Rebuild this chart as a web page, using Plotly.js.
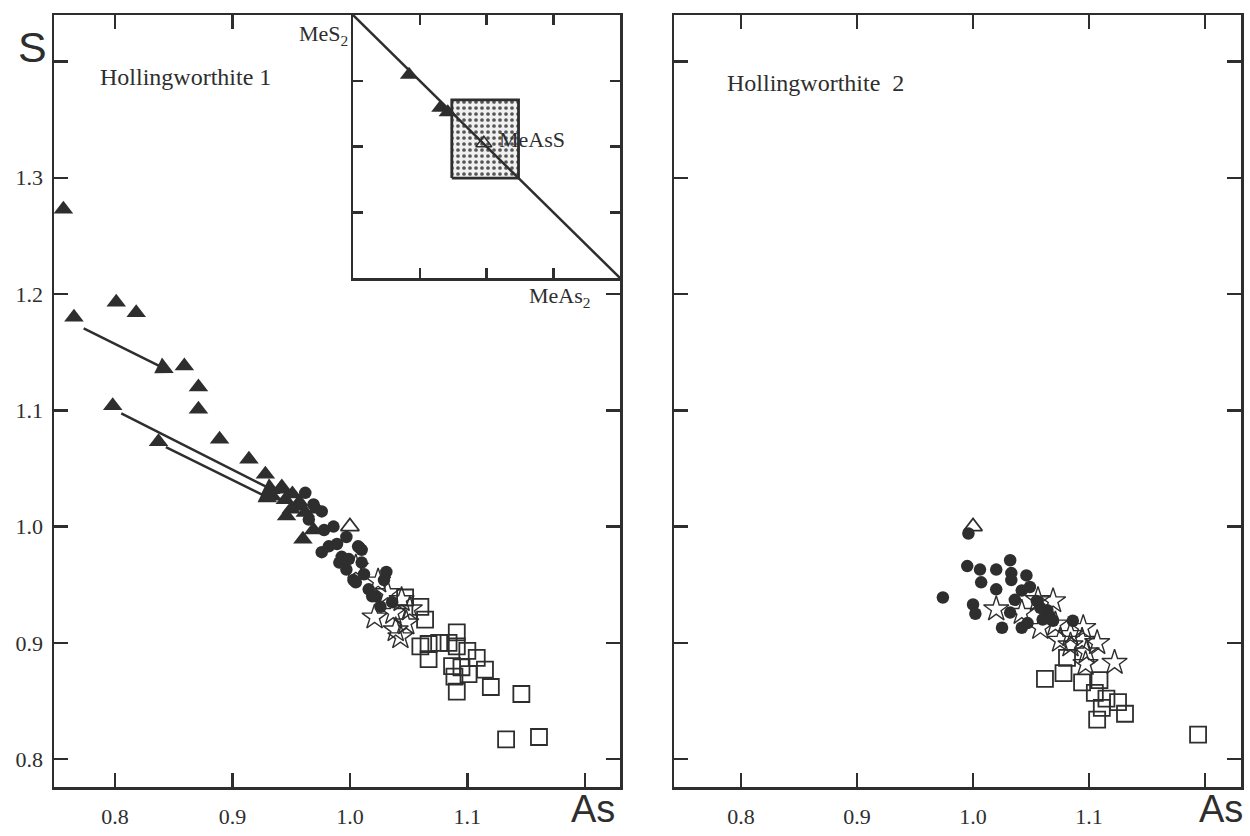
<!DOCTYPE html>
<html>
<head>
<meta charset="utf-8">
<script src="https://cdn.plot.ly/plotly-3.0.1.min.js"></script>
<style>html,body{margin:0;padding:0;background:#fff;}#chart{width:1250px;height:836px;}</style>
</head>
<body>
<div id="chart"></div>
<script>
// ---------- Hollingworthite 1 (left panel): As vs S ----------
const h1TriX  = [0.756, 0.765, 0.801, 0.818, 0.859, 0.871, 0.871, 0.798, 0.837, 0.889, 0.914, 0.928, 0.941, 0.934, 0.945, 0.951, 0.946, 0.962, 0.972, 0.960, 0.969, 0.957, 0.942, 0.950];
const h1TriY  = [1.273, 1.180, 1.193, 1.184, 1.138, 1.120, 1.101, 1.104, 1.073, 1.075, 1.058, 1.045, 1.032, 1.026, 1.023, 1.028, 1.009, 1.012, 1.015, 0.989, 0.997, 1.021, 1.034, 1.015];
const h1CircX = [0.962, 0.976, 0.986, 0.997, 1.007, 1.010, 0.976, 0.993, 0.997, 1.003, 1.031, 1.029, 1.022, 1.026, 1.036, 0.982, 0.991, 1.008, 1.010, 1.005, 1.019, 0.969, 0.957, 0.965, 0.978, 0.989, 0.999, 1.012, 1.016];
const h1CircY = [1.029, 1.013, 1.000, 0.991, 0.983, 0.980, 0.978, 0.974, 0.963, 0.954, 0.961, 0.954, 0.940, 0.931, 0.935, 0.983, 0.969, 0.982, 0.969, 0.952, 0.940, 1.019, 1.019, 1.006, 0.997, 0.985, 0.972, 0.959, 0.946];
const h1StarX = [1.005, 1.021, 1.024, 1.032, 1.044, 1.037, 1.048, 1.039, 1.043, 1.051];
const h1StarY = [0.965, 0.922, 0.953, 0.943, 0.937, 0.926, 0.917, 0.911, 0.905, 0.929];
const h1SqX   = [1.047, 1.060, 1.064, 1.060, 1.067, 1.076, 1.084, 1.091, 1.091, 1.100, 1.108, 1.115, 1.067, 1.087, 1.095, 1.089, 1.101, 1.091, 1.120, 1.146, 1.133, 1.161];
const h1SqY   = [0.939, 0.931, 0.920, 0.897, 0.899, 0.900, 0.900, 0.909, 0.897, 0.893, 0.887, 0.877, 0.886, 0.880, 0.879, 0.871, 0.873, 0.858, 0.862, 0.856, 0.817, 0.819];
const h1OpenX = [1.0];
const h1OpenY = [1.0];
// trend arrows (start -> tip)
const arrowFromX = [0.772, 0.804, 0.842];
const arrowFromY = [1.171, 1.098, 1.069];
const arrowToX   = [0.850, 0.941, 0.938];
const arrowToY   = [1.132, 1.028, 1.021];

// ---------- Hollingworthite 2 (right panel) ----------
const h2CircX = [0.996, 0.995, 1.006, 1.020, 1.032, 1.033, 1.033, 1.046, 1.007, 1.020, 0.974, 1.000, 1.002, 1.025, 1.042, 1.047, 1.036, 1.042, 1.049, 1.055, 1.064, 1.066, 1.060, 1.086, 1.032, 1.069, 1.058];
const h2CircY = [0.994, 0.966, 0.963, 0.963, 0.971, 0.960, 0.954, 0.958, 0.952, 0.946, 0.939, 0.933, 0.925, 0.913, 0.913, 0.917, 0.937, 0.945, 0.948, 0.936, 0.928, 0.923, 0.920, 0.919, 0.926, 0.919, 0.930];
const h2StarX = [1.020, 1.042, 1.056, 1.069, 1.058, 1.071, 1.075, 1.084, 1.095, 1.094, 1.107, 1.098, 1.097, 1.122, 1.084];
const h2StarY = [0.929, 0.926, 0.937, 0.936, 0.913, 0.916, 0.902, 0.898, 0.913, 0.902, 0.900, 0.892, 0.882, 0.883, 0.907];
const h2SqX   = [1.062, 1.078, 1.081, 1.094, 1.109, 1.105, 1.115, 1.125, 1.111, 1.107, 1.131, 1.194];
const h2SqY   = [0.869, 0.874, 0.887, 0.866, 0.868, 0.857, 0.852, 0.849, 0.844, 0.834, 0.839, 0.821];
const h2OpenX = [1.0];
const h2OpenY = [1.0];

// ---------- inset: MeS2 - MeAs2 join ----------
const joinX = [0, 4];
const joinY = [4, 0];
const boxX  = [1.48, 2.48];
const boxY  = [1.52, 2.71];
const insetTriX  = [0.84, 1.31, 1.42];
const insetTriY  = [3.09, 2.59, 2.52];
const insetOpenX = [1.96];
const insetOpenY = [2.05];

// tick labels
const xTickVals = [0.8, 0.9, 1.0, 1.1, 1.2];
const xTickText = ['0.8', '0.9', '1.0', '1.1', ''];
const yTickVals = [0.8, 0.9, 1.0, 1.1, 1.2, 1.3, 1.4];
const yTickText = ['0.8', '0.9', '1.0', '1.1', '1.2', '1.3', ''];

const INK = '#2e2e2e';
const SERIF = 'Liberation Serif, DejaVu Serif, serif';
const SANS = 'Liberation Sans, Arial, sans-serif';

function pts(x, y, xa, ya, symbol, size, filled, lw) {
  return {
    type: 'scatter', mode: 'markers', x: x, y: y, xaxis: xa, yaxis: ya,
    hoverinfo: 'skip', showlegend: false, cliponaxis: false,
    marker: {
      symbol: symbol, size: size, color: INK,
      line: {color: INK, width: filled ? 0 : (lw || 1.6)}
    }
  };
}

const traces = [
  pts(h1SqX, h1SqY, 'x', 'y', 'square-open', 16, false, 1.8),
  pts(h1StarX, h1StarY, 'x', 'y', 'star-open', 19, false, 1.4),
  pts(h1CircX, h1CircY, 'x', 'y', 'circle', 12.5, true),
  pts(h1TriX, h1TriY, 'x', 'y', 'triangle-up', 17, true),
  pts(h1OpenX, h1OpenY, 'x', 'y', 'triangle-up-open', 16, false, 1.8),

  pts(h2SqX, h2SqY, 'x2', 'y2', 'square-open', 16, false, 1.8),
  pts(h2CircX, h2CircY, 'x2', 'y2', 'circle', 12.5, true),
  pts(h2StarX, h2StarY, 'x2', 'y2', 'star-open', 19, false, 1.4),
  pts(h2OpenX, h2OpenY, 'x2', 'y2', 'triangle-up-open', 16, false, 1.8),

  // inset: stippled box
  {type: 'scatter', mode: 'lines', xaxis: 'x3', yaxis: 'y3', hoverinfo: 'skip', showlegend: false,
   x: [boxX[0], boxX[1], boxX[1], boxX[0], boxX[0]],
   y: [boxY[0], boxY[0], boxY[1], boxY[1], boxY[0]],
   fill: 'toself', fillcolor: '#efefef',
   fillpattern: {shape: '.', bgcolor: '#f0f0f0', fgcolor: '#555', size: 6, solidity: 0.3},
   line: {color: INK, width: 2.8}},
  // inset: join line
  {type: 'scatter', mode: 'lines', x: joinX, y: joinY, xaxis: 'x3', yaxis: 'y3',
   hoverinfo: 'skip', showlegend: false, cliponaxis: false, line: {color: INK, width: 2.5}},
  pts(insetTriX, insetTriY, 'x3', 'y3', 'triangle-up', 16, true),
  pts(insetOpenX, insetOpenY, 'x3', 'y3', 'triangle-up-open', 14, false, 1.5),

  // helper traces for the partial top / right tick sets of the left panel
  {type: 'scatter', mode: 'markers', x: [], y: [], xaxis: 'x4', yaxis: 'y', hoverinfo: 'skip', showlegend: false},
  {type: 'scatter', mode: 'markers', x: [], y: [], xaxis: 'x', yaxis: 'y4', hoverinfo: 'skip', showlegend: false}
];

const yDom = [1 - 787 / 836, 1 - 15 / 836];
const xRangeL = [0.748, 1.230];
const xRangeR = [0.7422, 1.2310];
const yRange = [0.776, 1.440];

const axisBase = {
  showgrid: false, zeroline: false, showline: true, linecolor: INK, linewidth: 2.5,
  ticks: 'inside', ticklen: 14, tickwidth: 2.5, tickcolor: INK,
  tickmode: 'array', fixedrange: true,
  tickfont: {family: SERIF, size: 22, color: INK}
};

const layout = {
  width: 1250, height: 836,
  margin: {l: 0, r: 0, t: 0, b: 0},
  paper_bgcolor: '#fff', plot_bgcolor: '#fff',
  showlegend: false,
  xaxis: Object.assign({}, axisBase, {domain: [54 / 1250, 620 / 1250], range: xRangeL, anchor: 'y',
    tickvals: xTickVals, ticktext: xTickText, mirror: true, ticklabelstandoff: 8}),
  yaxis: Object.assign({}, axisBase, {domain: yDom, range: yRange, anchor: 'x',
    tickvals: yTickVals, ticktext: yTickText, mirror: true, ticklabelstandoff: 4}),
  xaxis4: Object.assign({}, axisBase, {overlaying: 'x', side: 'top', anchor: 'y', range: xRangeL,
    tickvals: [0.8, 0.9], showticklabels: false, showline: false}),
  yaxis4: Object.assign({}, axisBase, {overlaying: 'y', side: 'right', anchor: 'x', range: yRange,
    tickvals: [0.8, 0.9, 1.0, 1.1, 1.2], showticklabels: false, showline: false}),
  xaxis2: Object.assign({}, axisBase, {domain: [674 / 1250, 1241 / 1250], range: xRangeR, anchor: 'y2',
    tickvals: xTickVals, ticktext: xTickText, mirror: 'ticks', ticklabelstandoff: 8}),
  yaxis2: Object.assign({}, axisBase, {domain: yDom, range: yRange, anchor: 'x2',
    tickvals: yTickVals, showticklabels: false, mirror: 'ticks'}),
  xaxis3: Object.assign({}, axisBase, {domain: [353 / 1250, 620 / 1250], range: [0, 4], anchor: 'y3',
    tickvals: [1, 2, 3], showticklabels: false, mirror: 'ticks', ticklen: 10}),
  yaxis3: Object.assign({}, axisBase, {domain: [1 - 278 / 836, yDom[1]], range: [0, 4], anchor: 'x3',
    tickvals: [1, 2, 3], showticklabels: false, mirror: 'ticks', ticklen: 10}),
  annotations: []
};

// trend arrows
for (let i = 0; i < arrowToX.length; i++) {
  layout.annotations.push({
    xref: 'x', yref: 'y', axref: 'x', ayref: 'y',
    x: arrowToX[i], y: arrowToY[i], ax: arrowFromX[i], ay: arrowFromY[i],
    text: '', showarrow: true, arrowhead: 2, arrowsize: 1.4, arrowwidth: 2.5,
    arrowcolor: INK, standoff: 0, startstandoff: 0
  });
}

function label(text, px, py, xanchor, font) {
  layout.annotations.push({
    xref: 'paper', yref: 'paper', x: px / 1250, y: 1 - py / 836,
    xanchor: xanchor, yanchor: 'middle', text: text, showarrow: false, font: font
  });
}
label('S', 32, 47, 'center', {family: SANS, size: 43, color: INK});
label('As', 593, 809, 'center', {family: SANS, size: 38, color: INK});
label('As', 1221, 809, 'center', {family: SANS, size: 38, color: INK});
label('Hollingworthite 1', 98, 77, 'left', {family: SERIF, size: 24, color: INK});
label('Hollingworthite  2', 725, 83, 'left', {family: SERIF, size: 24, color: INK});
label('MeS<sub>2</sub>', 350, 35, 'right', {family: SERIF, size: 22, color: INK});
label('MeAsS', 497, 139, 'left', {family: SERIF, size: 22, color: INK});
label('MeAs<sub>2</sub>', 527, 297, 'left', {family: SERIF, size: 22, color: INK});

Plotly.newPlot('chart', traces, layout, {staticPlot: true, displayModeBar: false});
</script>
</body>
</html>
